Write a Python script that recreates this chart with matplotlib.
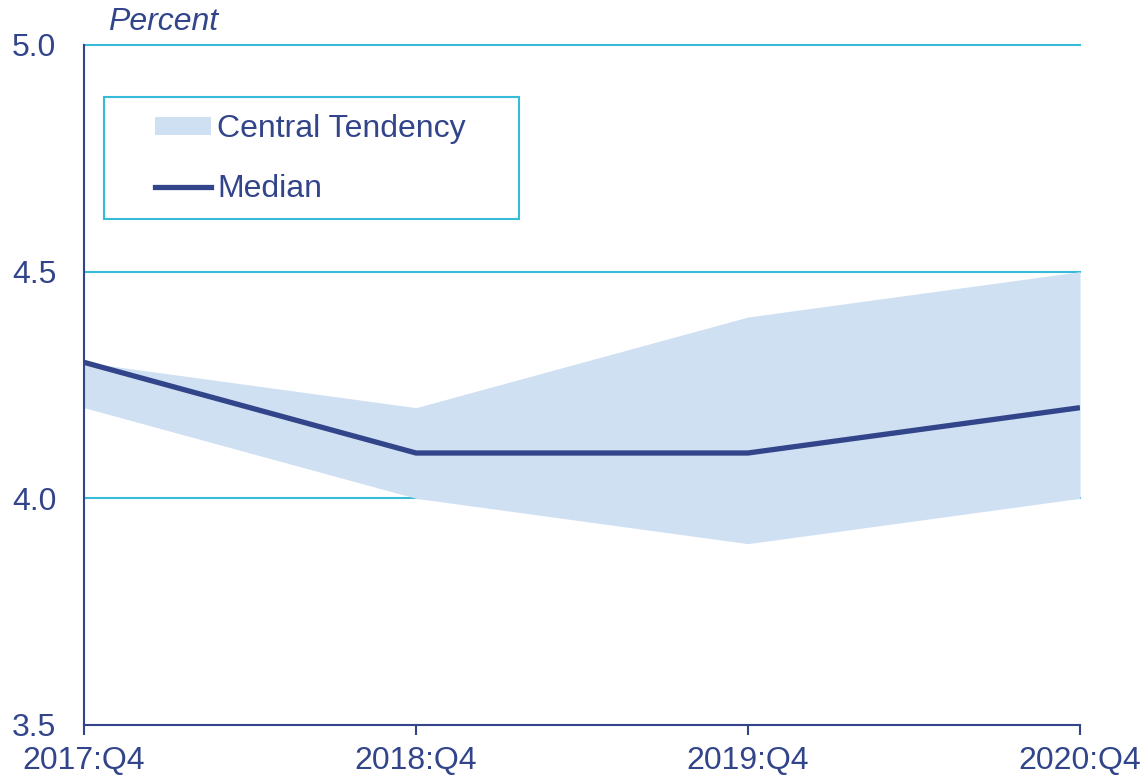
import numpy as np
import matplotlib.pyplot as plt
from matplotlib.patches import Rectangle, Patch
from matplotlib.lines import Line2D

plt.rcParams['font.family'] = ['Liberation Sans', 'DejaVu Sans']

quarters = ['2017:Q4', '2018:Q4', '2019:Q4', '2020:Q4']
median = [4.3, 4.1, 4.1, 4.2]
ct_low = [4.2, 4.0, 3.9, 4.0]
ct_high = [4.3, 4.2, 4.4, 4.5]
yticks = [3.5, 4.0, 4.5, 5.0]

navy = '#33458A'
cyan = '#36BCD9'
band = '#CFE0F2'
fs = 23

fig = plt.figure(figsize=(11.44, 7.76), dpi=100)
ax = fig.add_axes([84/1144, 1-725/776, 996/1144, 680/776])

x = np.arange(len(quarters))
ax.fill_between(x, ct_low, ct_high, color=band, lw=0, zorder=2)
ax.plot(x, median, color=navy, lw=3.8, zorder=3, solid_capstyle='butt')

for v in yticks[1:]:
    ax.axhline(v, color=cyan, lw=1.5, zorder=1, clip_on=False)

ax.set_xlim(0, 3)
ax.set_ylim(3.5, 5.0)
ax.set_xticks(x)
ax.set_xticklabels(quarters)
ax.set_yticks(yticks)
ax.set_yticklabels([f'{v:.1f}' for v in yticks])
ax.tick_params(axis='x', length=7, width=1.5, color=navy, pad=8, labelsize=fs, labelcolor=navy)
ax.tick_params(axis='y', length=0, pad=20, labelsize=fs, labelcolor=navy)

for s in ['top', 'right']:
    ax.spines[s].set_visible(False)
for s in ['left', 'bottom']:
    ax.spines[s].set_color(navy)
    ax.spines[s].set_linewidth(1.5)
ax.spines['left'].set_zorder(4)

ax.text(0.024, 1.022, 'Percent', transform=ax.transAxes, style='italic',
        fontsize=fs, color=navy, va='baseline', ha='left')

# legend box
ax.add_patch(Rectangle((20/996, 1-(219-45)/680), 415/996, 122/680,
                       transform=ax.transAxes, fill=False, edgecolor=cyan, lw=1.5,
                       zorder=5, clip_on=False))
handles = [Patch(facecolor=band, edgecolor='none'),
           Line2D([], [], color=navy, lw=3.8)]
leg = ax.legend(handles, ['Central Tendency', 'Median'], loc='upper left',
                bbox_to_anchor=((155-84)/996, (725-114)/680), frameon=False,
                fontsize=fs, labelcolor=navy, handlelength=1.75, handleheight=0.5,
                handletextpad=0.2, labelspacing=0.94, borderpad=0, borderaxespad=0)

fig.savefig('out.png', dpi=100)
